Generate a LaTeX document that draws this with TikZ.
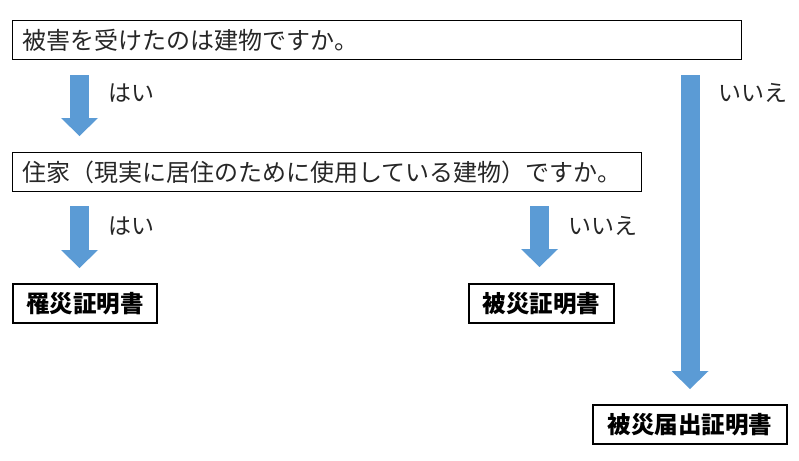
\documentclass[tikz,border=0pt]{standalone}
\usepackage{fontspec}
\setmainfont{Noto Sans CJK JP}
\usepackage{tikz}
\usepackage{xcolor}
\usetikzlibrary{arrows.meta, positioning, calc}
\definecolor{arrowblue}{HTML}{5B9BD5}

\begin{document}
\begin{tikzpicture}[x=1pt, y=-1pt,
    qbox/.style={draw, line width=1.2pt, anchor=north west, minimum height=39pt,
        inner xsep=10pt, inner ysep=0pt, align=left, text=black!85,
        font=\fontsize{24}{28}\selectfont},
    resbox/.style={draw, line width=2pt, anchor=north west, minimum height=39pt,
        inner sep=0pt, font=\fontsize{23.5}{28}\selectfont\bfseries},
    bigarrow/.style={arrowblue, line width=19pt,
        -{Triangle[length=18pt, width=37pt, line width=0pt]}},
    ans/.style={right, inner sep=0pt, xshift=19pt, text=black!85,
        font=\fontsize{23}{26}\selectfont}]
\useasboundingbox (0,0) rectangle (799,460);

% Questions
\node[qbox, minimum width=729pt, text width=709pt] (q1) at (12,20) {被害を受けたのは建物ですか。};
\node[qbox, minimum width=629pt, text width=609pt] (q2) at (12,152) {住家（現実に居住のために使用している建物）ですか。};

% Results
\node[resbox, minimum width=144pt] (r1) at (12,283) {罹災証明書};
\node[resbox, minimum width=145pt] (r2) at (468,283) {被災証明書};
\node[resbox, minimum width=194pt] (r3) at (592,404) {被災届出証明書};

% Arrows
\draw[bigarrow] ($(q1.south west)+(67.5,15)$) -- node[ans, pos=0.29] {はい}
    ($(q2.north west)+(67.5,-16)$);
\draw[bigarrow] ($(q2.south west)+(67.5,14)$) -- node[ans, pos=0.32] {はい}
    ($(r1.north west)+(67.5,-15)$);
\draw[bigarrow] ($(q2.south -| r2.north)+(-2,14)$) -- node[ans, pos=0.32] {いいえ}
    ($(r2.north)+(-2,-16)$);
\draw[bigarrow] ($(q1.south -| r3.north)+(0,15)$) -- node[ans, pos=0.057] {いいえ}
    ($(r3.north)+(0,-15)$);
\end{tikzpicture}
\end{document}
